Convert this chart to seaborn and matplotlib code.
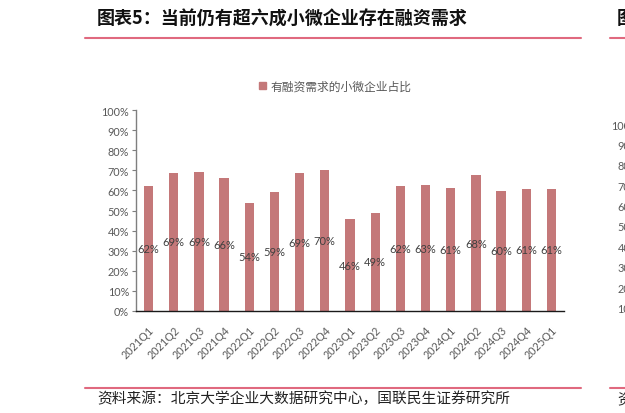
import numpy as np
import pandas as pd
import seaborn as sns
import matplotlib as mpl
import matplotlib.pyplot as plt
import matplotlib.ticker as mticker
from matplotlib.lines import Line2D

mpl.use('Agg')

# quarters and share of small/micro firms with financing needs (%)
quarters = ['2021Q1', '2021Q2', '2021Q3', '2021Q4', '2022Q1', '2022Q2', '2022Q3', '2022Q4',
            '2023Q1', '2023Q2', '2023Q3', '2023Q4', '2024Q1', '2024Q2', '2024Q3', '2024Q4', '2025Q1']
share = [62.2, 68.8, 69.2, 66.3, 53.9, 59.1, 68.6, 70.0,
         45.6, 48.8, 62.3, 62.6, 61.2, 67.6, 59.8, 60.8, 60.7]

title = '图表5：当前仍有超六成小微企业存在融资需求'
series_name = '有融资需求的小微企业占比'
source = '资料来源：北京大学企业大数据研究中心，国联民生证券研究所'

sns.set_theme(style='white')
plt.rcParams['font.family'] = ['Noto Sans CJK SC', 'DejaVu Sans']

bar_color = '#C47879'
line_color = '#E0697F'
grey = '#595959'

df = pd.DataFrame({'quarter': quarters, 'share': share})

fig = plt.figure(figsize=(6.25, 4.14), dpi=100)
W, H = 625, 414
ax = fig.add_axes([136 / W, 1 - 312 / H, (564 - 136) / W, (312 - 111) / H])

sns.barplot(data=df, x='quarter', y='share', color=bar_color, width=0.37,
            saturation=1, ax=ax, edgecolor='none')

ax.set_ylim(0, 100)
ax.set_yticks(np.arange(0, 101, 10))
ax.yaxis.set_major_formatter(mticker.FuncFormatter(lambda v, p: '{0:d}%'.format(int(round(v)))))
ax.set_xlabel('')
ax.set_ylabel('')

for lab in ax.get_yticklabels():
    lab.set_family(['Lato', 'DejaVu Sans'])
    lab.set_fontsize(7.8)
    lab.set_color(grey)
ax.tick_params(axis='y', which='major', left=True, length=3, width=0.8, color='#7f7f7f', pad=2)
ax.tick_params(axis='x', which='major', bottom=False, pad=3)
plt.setp(ax.get_xticklabels(), rotation=45, ha='right', rotation_mode='anchor',
         fontsize=7.8, color=grey, family=['Lato', 'DejaVu Sans'])

sns.despine(ax=ax, top=True, right=True)
ax.spines['left'].set_color('#7f7f7f')
ax.spines['left'].set_linewidth(1.0)
ax.spines['bottom'].set_color('#1a1a1a')
ax.spines['bottom'].set_linewidth(1.0)

# value labels in the middle of the bars
ax.bar_label(ax.containers[0], labels=['{0:d}%'.format(int(round(v))) for v in share],
             label_type='center', fontsize=8, color='#404040', family=['Lato', 'DejaVu Sans'])

# legend at top
handle = [plt.Rectangle((0, 0), 1, 1, color=bar_color)]
fig.legend(handle, [series_name], loc='center', bbox_to_anchor=(335 / W, 1 - 87 / H),
           frameon=False, fontsize=8.5, labelcolor=grey, handlelength=0.6, handleheight=0.6,
           handletextpad=0.4)

# title, rules and source
fig.text(97 / W, 1 - 19 / H, title, fontsize=13, fontweight='bold', color='#111111',
         ha='left', va='center')
fig.add_artist(Line2D([85 / W, 581 / W], [1 - 39 / H, 1 - 39 / H], color=line_color, lw=1.5))
fig.add_artist(Line2D([85 / W, 581 / W], [1 - 389 / H, 1 - 389 / H], color=line_color, lw=1.5))
fig.text(97 / W, 1 - 399 / H, source, fontsize=10.6, color='#222222', ha='left', va='center')

# edge of the neighbouring chart on the right
fig.add_artist(Line2D([610 / W, 1.0], [1 - 39 / H, 1 - 39 / H], color=line_color, lw=1.5))
fig.add_artist(Line2D([610 / W, 1.0], [1 - 389 / H, 1 - 389 / H], color=line_color, lw=1.5))
fig.text(617 / W, 1 - 19 / H, '图', fontsize=13, fontweight='bold', color='#111111',
         ha='left', va='center')
for i, t in enumerate(['100%', '90%', '80%', '70%', '60%', '50%', '40%', '30%', '20%', '10%']):
    fig.text(639 / W, 1 - (126 + i * 20.4) / H, t, fontsize=7.8, color=grey,
             ha='right', va='center', family=['Lato', 'DejaVu Sans'])
fig.text(617 / W, 1 - 399 / H, '资', fontsize=10.6, color='#222222', ha='left', va='center')

fig.savefig('out.png', dpi=100)
